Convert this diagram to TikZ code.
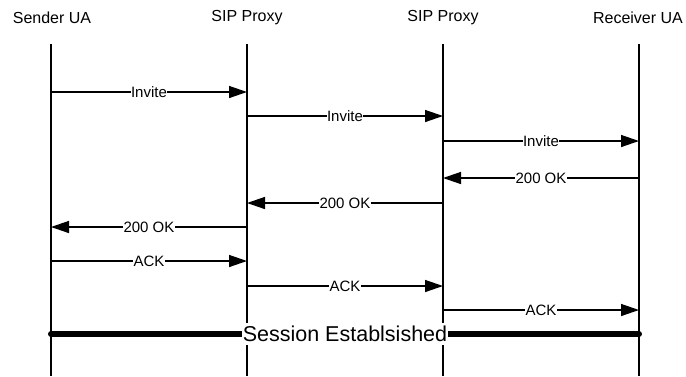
\documentclass[tikz,border=0pt]{standalone}
\usepackage{fontspec}
\setmainfont{Liberation Sans}
\usetikzlibrary{arrows.meta}
\begin{document}
\begin{tikzpicture}[x=1pt,y=-1pt,
  lifeline/.style={line width=1.1pt},
  head/.style={font=\fontsize{16}{18}\selectfont, anchor=center},
  msg/.style={line width=1.4pt, -{Triangle[length=18pt,width=12pt]}},
  lbl/.style={fill=white, inner sep=0.5pt, font=\fontsize{15}{17}\selectfont},
  sess/.style={line width=6pt, line cap=round},
  sesslbl/.style={fill=white, inner sep=0.5pt, font=\fontsize{21.5}{24}\selectfont}]
\useasboundingbox (0,0) rectangle (686,376);
\node[head] (h1) at (52,18) {Sender UA};
\node[head] (h2) at (247,18) {SIP Proxy};
\node[head] (h3) at (443,18) {SIP Proxy};
\node[head] (h4) at (638,18) {Receiver UA};
\foreach \i/\x in {1/51,2/247,3/443,4/639}{
  \coordinate (t\i) at (\x,44);
  \coordinate (b\i) at (\x,376);
  \draw[lifeline] (t\i) -- (b\i);
}
% message coordinates
\foreach \n/\y in {a/92,b/116,c/141,d/178,e/203,f/227,g/261,h/286,i/310,s/334}{
  \foreach \i/\x in {1/51,2/247,3/443,4/639}{
    \coordinate (\n\i) at (\x,\y);
  }
}
\draw[msg] (a1) -- node[lbl]{Invite} (a2);
\draw[msg] (b2) -- node[lbl]{Invite} (b3);
\draw[msg] (c3) -- node[lbl]{Invite} (c4);
\draw[msg] (d4) -- node[lbl]{200 OK} (d3);
\draw[msg] (e3) -- node[lbl]{200 OK} (e2);
\draw[msg] (f2) -- node[lbl]{200 OK} (f1);
\draw[msg] (g1) -- node[lbl]{ACK} (g2);
\draw[msg] (h2) -- node[lbl]{ACK} (h3);
\draw[msg] (i3) -- node[lbl]{ACK} (i4);
\draw[sess] (s1) -- node[sesslbl, inner ysep=3pt] (sl) {Session Establsished} (s4);
\end{tikzpicture}
\end{document}
